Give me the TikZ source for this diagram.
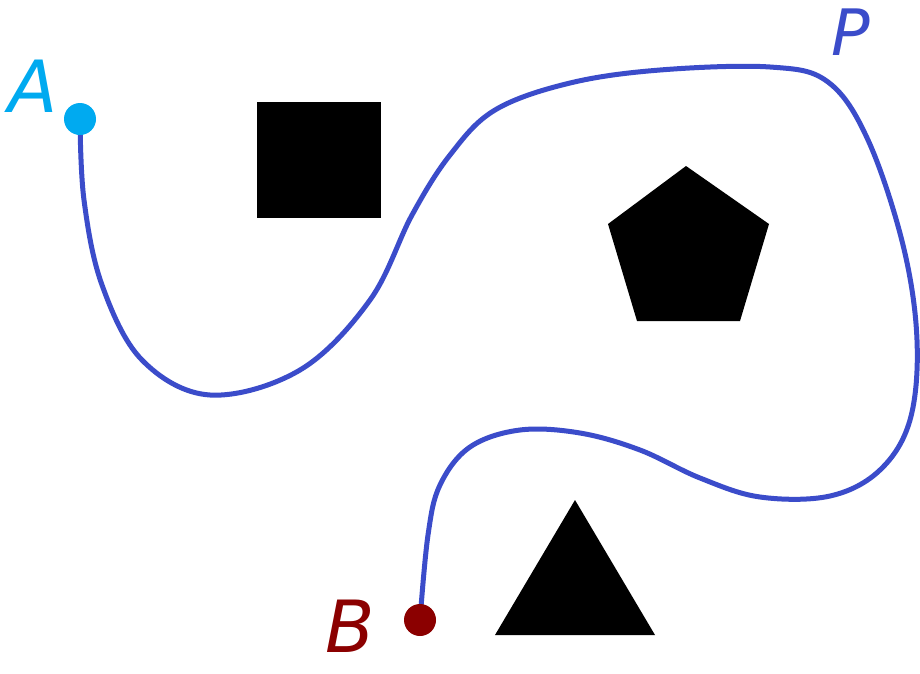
\documentclass[tikz,border=0pt]{standalone}
\usepackage{fontspec}
\setmainfont{DejaVu Sans}
\definecolor{pathblue}{RGB}{59,76,202}
\definecolor{acyan}{RGB}{0,170,240}
\definecolor{bred}{RGB}{139,0,0}
\begin{document}
\begin{tikzpicture}[x=1pt,y=-1pt,
  dot/.style={circle,inner sep=0pt,minimum size=32pt},
  obst/.style={fill=black,draw=none},
  lbl/.style={inner sep=0pt,font=\fontsize{72}{72}\selectfont\itshape}]
\useasboundingbox (0,0) rectangle (920,673);
\fill[white] (0,0) rectangle (920,673);
% obstacles
\fill[obst] (257,102) rectangle (381,218);
\fill[obst] (686,166) -- (769,224) -- (740,321) -- (637,321) -- (608,224) -- cycle;
\fill[obst] (575,500) -- (655,635) -- (495,635) -- cycle;
% endpoints
\coordinate (A) at (80,119);
\coordinate (B) at (420,620);
% path
\draw[pathblue,line width=5pt,line cap=round] plot[smooth,tension=0.6] coordinates {
 (A) (84,200) (102,285) (142,360) (210,395) (300,370) (370,300) (412,215)
 (450,155) (495,110) (570,83) (660,70) (770,67) (828,82) (868,140) (903,245)
 (917,340) (910,420) (880,470) (830,496) (760,497) (700,478) (640,450)
 (580,433) (520,430) (470,447) (440,485) (428,535) (B)};
\node[dot,fill=acyan] (Adot) at (A) {};
\node[dot,fill=bred] (Bdot) at (B) {};
% labels
\node[lbl,text=acyan] (la) at (33,86) {A};
\node[lbl,text=bred] (lb) at (350,626) {B};
\node[lbl,text=pathblue,font=\fontsize{64}{64}\selectfont\itshape] (lp) at (851,32) {P};
\end{tikzpicture}
\end{document}
